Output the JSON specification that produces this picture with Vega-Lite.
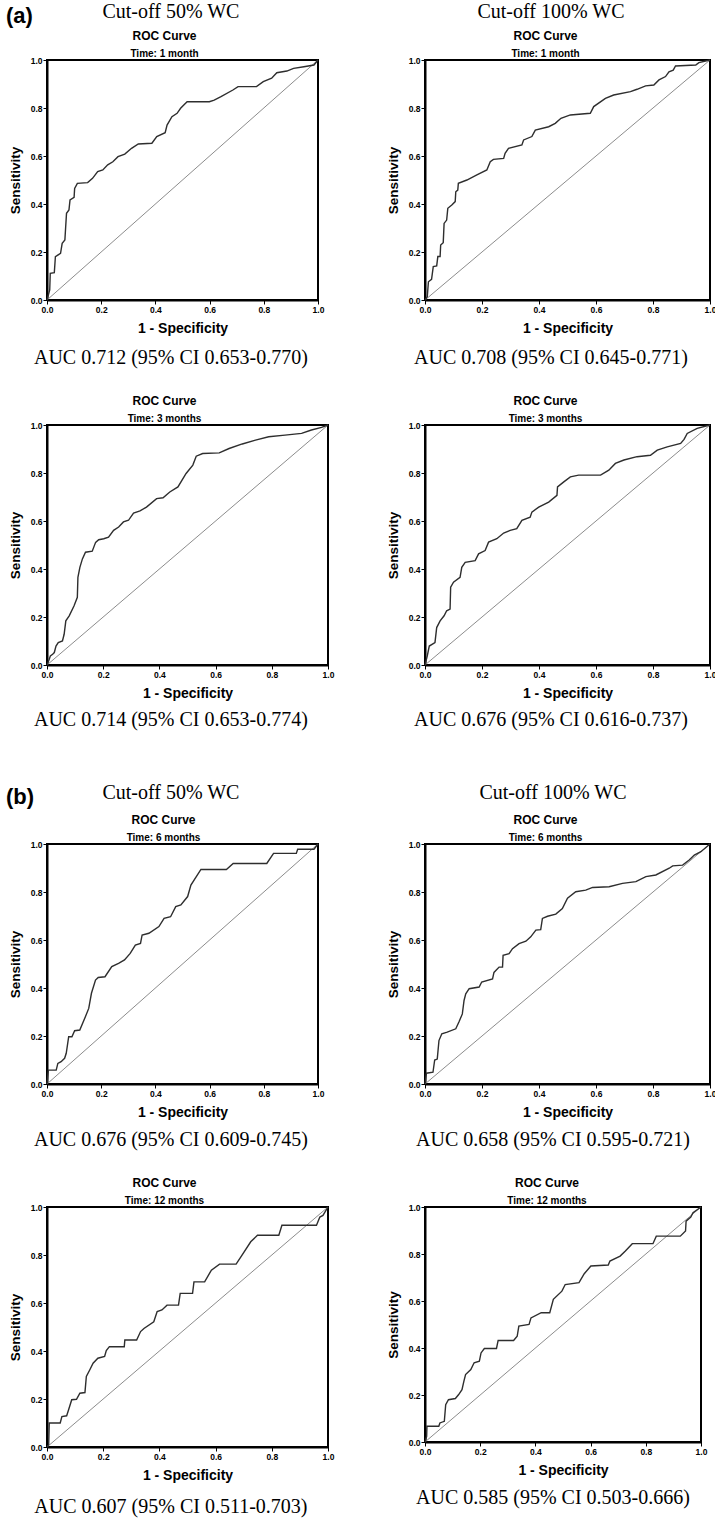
{
  "$schema": "https://vega.github.io/schema/vega-lite/v6.json",
  "padding": {"left": 5, "top": 0, "right": 0, "bottom": 0},
  "background": "white",
  "columns": 2,
  "spacing": {"row": 0, "column": 97},
  "bounds": "flush",
  "align": "each",
  "datasets": {
    "reference": [{"fpr": 0, "tpr": 0}, {"fpr": 1, "tpr": 1}],
    "cut50_1m": [{"fpr":0,"tpr":0},{"fpr":0.010,"tpr":0.042},{"fpr":0.012,"tpr":0.111},{"fpr":0.027,"tpr":0.114},{"fpr":0.031,"tpr":0.181},{"fpr":0.050,"tpr":0.194},{"fpr":0.056,"tpr":0.236},{"fpr":0.066,"tpr":0.25},{"fpr":0.069,"tpr":0.306},{"fpr":0.072,"tpr":0.361},{"fpr":0.081,"tpr":0.375},{"fpr":0.085,"tpr":0.417},{"fpr":0.100,"tpr":0.428},{"fpr":0.102,"tpr":0.465},{"fpr":0.112,"tpr":0.486},{"fpr":0.150,"tpr":0.489},{"fpr":0.168,"tpr":0.507},{"fpr":0.187,"tpr":0.535},{"fpr":0.206,"tpr":0.542},{"fpr":0.224,"tpr":0.563},{"fpr":0.243,"tpr":0.576},{"fpr":0.262,"tpr":0.597},{"fpr":0.287,"tpr":0.608},{"fpr":0.312,"tpr":0.632},{"fpr":0.337,"tpr":0.65},{"fpr":0.387,"tpr":0.653},{"fpr":0.405,"tpr":0.681},{"fpr":0.436,"tpr":0.697},{"fpr":0.443,"tpr":0.729},{"fpr":0.461,"tpr":0.764},{"fpr":0.48,"tpr":0.778},{"fpr":0.493,"tpr":0.799},{"fpr":0.517,"tpr":0.826},{"fpr":0.599,"tpr":0.826},{"fpr":0.617,"tpr":0.833},{"fpr":0.642,"tpr":0.847},{"fpr":0.686,"tpr":0.875},{"fpr":0.705,"tpr":0.889},{"fpr":0.773,"tpr":0.889},{"fpr":0.798,"tpr":0.91},{"fpr":0.829,"tpr":0.924},{"fpr":0.848,"tpr":0.947},{"fpr":0.885,"tpr":0.954},{"fpr":0.910,"tpr":0.965},{"fpr":0.948,"tpr":0.972},{"fpr":0.985,"tpr":0.979},{"fpr":1,"tpr":1}],
    "cut100_1m": [{"fpr":0,"tpr":0},{"fpr":0.008,"tpr":0.014},{"fpr":0.012,"tpr":0.076},{"fpr":0.023,"tpr":0.086},{"fpr":0.029,"tpr":0.139},{"fpr":0.041,"tpr":0.142},{"fpr":0.045,"tpr":0.181},{"fpr":0.053,"tpr":0.181},{"fpr":0.055,"tpr":0.229},{"fpr":0.064,"tpr":0.239},{"fpr":0.067,"tpr":0.319},{"fpr":0.076,"tpr":0.333},{"fpr":0.080,"tpr":0.382},{"fpr":0.094,"tpr":0.396},{"fpr":0.106,"tpr":0.41},{"fpr":0.108,"tpr":0.451},{"fpr":0.115,"tpr":0.458},{"fpr":0.117,"tpr":0.486},{"fpr":0.147,"tpr":0.5},{"fpr":0.182,"tpr":0.521},{"fpr":0.217,"tpr":0.542},{"fpr":0.229,"tpr":0.576},{"fpr":0.240,"tpr":0.586},{"fpr":0.276,"tpr":0.590},{"fpr":0.281,"tpr":0.611},{"fpr":0.293,"tpr":0.632},{"fpr":0.340,"tpr":0.646},{"fpr":0.346,"tpr":0.667},{"fpr":0.375,"tpr":0.681},{"fpr":0.387,"tpr":0.708},{"fpr":0.434,"tpr":0.722},{"fpr":0.457,"tpr":0.736},{"fpr":0.477,"tpr":0.757},{"fpr":0.510,"tpr":0.771},{"fpr":0.580,"tpr":0.778},{"fpr":0.592,"tpr":0.806},{"fpr":0.633,"tpr":0.840},{"fpr":0.662,"tpr":0.854},{"fpr":0.721,"tpr":0.868},{"fpr":0.744,"tpr":0.878},{"fpr":0.774,"tpr":0.892},{"fpr":0.803,"tpr":0.896},{"fpr":0.821,"tpr":0.917},{"fpr":0.844,"tpr":0.931},{"fpr":0.856,"tpr":0.951},{"fpr":0.871,"tpr":0.958},{"fpr":0.879,"tpr":0.975},{"fpr":0.950,"tpr":0.979},{"fpr":0.961,"tpr":0.989},{"fpr":1,"tpr":1}],
    "cut50_3m": [{"fpr":0,"tpr":0},{"fpr":0.008,"tpr":0.024},{"fpr":0.012,"tpr":0.038},{"fpr":0.020,"tpr":0.045},{"fpr":0.026,"tpr":0.052},{"fpr":0.032,"tpr":0.079},{"fpr":0.040,"tpr":0.093},{"fpr":0.055,"tpr":0.10},{"fpr":0.061,"tpr":0.128},{"fpr":0.067,"tpr":0.184},{"fpr":0.079,"tpr":0.205},{"fpr":0.096,"tpr":0.246},{"fpr":0.108,"tpr":0.282},{"fpr":0.110,"tpr":0.365},{"fpr":0.117,"tpr":0.407},{"fpr":0.126,"tpr":0.442},{"fpr":0.137,"tpr":0.470},{"fpr":0.161,"tpr":0.474},{"fpr":0.173,"tpr":0.511},{"fpr":0.184,"tpr":0.522},{"fpr":0.202,"tpr":0.526},{"fpr":0.219,"tpr":0.533},{"fpr":0.237,"tpr":0.561},{"fpr":0.255,"tpr":0.575},{"fpr":0.272,"tpr":0.596},{"fpr":0.290,"tpr":0.603},{"fpr":0.308,"tpr":0.633},{"fpr":0.331,"tpr":0.642},{"fpr":0.354,"tpr":0.658},{"fpr":0.390,"tpr":0.693},{"fpr":0.413,"tpr":0.697},{"fpr":0.437,"tpr":0.721},{"fpr":0.466,"tpr":0.742},{"fpr":0.495,"tpr":0.798},{"fpr":0.519,"tpr":0.833},{"fpr":0.531,"tpr":0.870},{"fpr":0.554,"tpr":0.881},{"fpr":0.613,"tpr":0.884},{"fpr":0.648,"tpr":0.902},{"fpr":0.695,"tpr":0.921},{"fpr":0.742,"tpr":0.937},{"fpr":0.789,"tpr":0.951},{"fpr":0.847,"tpr":0.958},{"fpr":0.906,"tpr":0.965},{"fpr":0.941,"tpr":0.979},{"fpr":0.977,"tpr":0.990},{"fpr":1,"tpr":1}],
    "cut100_3m": [{"fpr":0,"tpr":0},{"fpr":0.008,"tpr":0.038},{"fpr":0.015,"tpr":0.079},{"fpr":0.035,"tpr":0.093},{"fpr":0.041,"tpr":0.156},{"fpr":0.053,"tpr":0.184},{"fpr":0.067,"tpr":0.205},{"fpr":0.076,"tpr":0.226},{"fpr":0.088,"tpr":0.233},{"fpr":0.090,"tpr":0.324},{"fpr":0.100,"tpr":0.345},{"fpr":0.123,"tpr":0.365},{"fpr":0.129,"tpr":0.407},{"fpr":0.141,"tpr":0.428},{"fpr":0.176,"tpr":0.435},{"fpr":0.188,"tpr":0.463},{"fpr":0.211,"tpr":0.477},{"fpr":0.223,"tpr":0.512},{"fpr":0.252,"tpr":0.526},{"fpr":0.276,"tpr":0.550},{"fpr":0.299,"tpr":0.561},{"fpr":0.322,"tpr":0.568},{"fpr":0.340,"tpr":0.603},{"fpr":0.369,"tpr":0.616},{"fpr":0.375,"tpr":0.637},{"fpr":0.399,"tpr":0.658},{"fpr":0.434,"tpr":0.679},{"fpr":0.463,"tpr":0.707},{"fpr":0.465,"tpr":0.742},{"fpr":0.487,"tpr":0.763},{"fpr":0.510,"tpr":0.784},{"fpr":0.539,"tpr":0.791},{"fpr":0.616,"tpr":0.791},{"fpr":0.645,"tpr":0.812},{"fpr":0.668,"tpr":0.840},{"fpr":0.698,"tpr":0.854},{"fpr":0.744,"tpr":0.868},{"fpr":0.791,"tpr":0.874},{"fpr":0.815,"tpr":0.895},{"fpr":0.850,"tpr":0.909},{"fpr":0.897,"tpr":0.923},{"fpr":0.909,"tpr":0.940},{"fpr":0.920,"tpr":0.965},{"fpr":0.955,"tpr":0.986},{"fpr":1,"tpr":1}],
    "cut50_6m": [{"fpr":0,"tpr":0},{"fpr":0.005,"tpr":0.058},{"fpr":0.034,"tpr":0.058},{"fpr":0.040,"tpr":0.086},{"fpr":0.052,"tpr":0.093},{"fpr":0.065,"tpr":0.107},{"fpr":0.071,"tpr":0.128},{"fpr":0.080,"tpr":0.197},{"fpr":0.092,"tpr":0.197},{"fpr":0.102,"tpr":0.222},{"fpr":0.121,"tpr":0.225},{"fpr":0.142,"tpr":0.281},{"fpr":0.154,"tpr":0.315},{"fpr":0.164,"tpr":0.378},{"fpr":0.179,"tpr":0.433},{"fpr":0.189,"tpr":0.444},{"fpr":0.214,"tpr":0.447},{"fpr":0.239,"tpr":0.489},{"fpr":0.264,"tpr":0.503},{"fpr":0.286,"tpr":0.517},{"fpr":0.307,"tpr":0.544},{"fpr":0.326,"tpr":0.579},{"fpr":0.345,"tpr":0.586},{"fpr":0.351,"tpr":0.621},{"fpr":0.376,"tpr":0.628},{"fpr":0.413,"tpr":0.656},{"fpr":0.432,"tpr":0.690},{"fpr":0.456,"tpr":0.697},{"fpr":0.475,"tpr":0.739},{"fpr":0.494,"tpr":0.746},{"fpr":0.519,"tpr":0.781},{"fpr":0.531,"tpr":0.829},{"fpr":0.568,"tpr":0.894},{"fpr":0.662,"tpr":0.894},{"fpr":0.687,"tpr":0.919},{"fpr":0.811,"tpr":0.919},{"fpr":0.836,"tpr":0.961},{"fpr":0.920,"tpr":0.961},{"fpr":0.925,"tpr":0.978},{"fpr":0.985,"tpr":0.978},{"fpr":1,"tpr":1}],
    "cut100_6m": [{"fpr":0,"tpr":0},{"fpr":0.005,"tpr":0.045},{"fpr":0.028,"tpr":0.049},{"fpr":0.034,"tpr":0.100},{"fpr":0.043,"tpr":0.104},{"fpr":0.049,"tpr":0.181},{"fpr":0.059,"tpr":0.209},{"fpr":0.078,"tpr":0.216},{"fpr":0.108,"tpr":0.230},{"fpr":0.119,"tpr":0.258},{"fpr":0.131,"tpr":0.292},{"fpr":0.137,"tpr":0.348},{"fpr":0.143,"tpr":0.376},{"fpr":0.155,"tpr":0.397},{"fpr":0.190,"tpr":0.404},{"fpr":0.199,"tpr":0.425},{"fpr":0.237,"tpr":0.438},{"fpr":0.242,"tpr":0.465},{"fpr":0.260,"tpr":0.487},{"fpr":0.272,"tpr":0.487},{"fpr":0.274,"tpr":0.536},{"fpr":0.295,"tpr":0.543},{"fpr":0.307,"tpr":0.564},{"fpr":0.330,"tpr":0.585},{"fpr":0.354,"tpr":0.595},{"fpr":0.371,"tpr":0.613},{"fpr":0.389,"tpr":0.641},{"fpr":0.406,"tpr":0.643},{"fpr":0.412,"tpr":0.690},{"fpr":0.430,"tpr":0.699},{"fpr":0.459,"tpr":0.708},{"fpr":0.482,"tpr":0.731},{"fpr":0.500,"tpr":0.774},{"fpr":0.529,"tpr":0.801},{"fpr":0.564,"tpr":0.808},{"fpr":0.588,"tpr":0.819},{"fpr":0.646,"tpr":0.822},{"fpr":0.693,"tpr":0.836},{"fpr":0.740,"tpr":0.843},{"fpr":0.775,"tpr":0.864},{"fpr":0.810,"tpr":0.871},{"fpr":0.857,"tpr":0.899},{"fpr":0.869,"tpr":0.909},{"fpr":0.904,"tpr":0.912},{"fpr":0.927,"tpr":0.933},{"fpr":0.945,"tpr":0.954},{"fpr":0.968,"tpr":0.968},{"fpr":1,"tpr":1}],
    "cut50_12m": [{"fpr":0,"tpr":0},{"fpr":0.006,"tpr":0.010},{"fpr":0.008,"tpr":0.100},{"fpr":0.047,"tpr":0.100},{"fpr":0.053,"tpr":0.127},{"fpr":0.070,"tpr":0.130},{"fpr":0.076,"tpr":0.152},{"fpr":0.088,"tpr":0.197},{"fpr":0.105,"tpr":0.199},{"fpr":0.117,"tpr":0.224},{"fpr":0.135,"tpr":0.227},{"fpr":0.140,"tpr":0.294},{"fpr":0.152,"tpr":0.321},{"fpr":0.164,"tpr":0.349},{"fpr":0.181,"tpr":0.370},{"fpr":0.205,"tpr":0.377},{"fpr":0.211,"tpr":0.402},{"fpr":0.222,"tpr":0.418},{"fpr":0.275,"tpr":0.418},{"fpr":0.277,"tpr":0.446},{"fpr":0.319,"tpr":0.446},{"fpr":0.333,"tpr":0.481},{"fpr":0.345,"tpr":0.494},{"fpr":0.380,"tpr":0.522},{"fpr":0.392,"tpr":0.564},{"fpr":0.409,"tpr":0.571},{"fpr":0.427,"tpr":0.591},{"fpr":0.468,"tpr":0.591},{"fpr":0.474,"tpr":0.640},{"fpr":0.518,"tpr":0.640},{"fpr":0.523,"tpr":0.688},{"fpr":0.561,"tpr":0.688},{"fpr":0.585,"tpr":0.737},{"fpr":0.614,"tpr":0.762},{"fpr":0.673,"tpr":0.762},{"fpr":0.690,"tpr":0.792},{"fpr":0.725,"tpr":0.855},{"fpr":0.749,"tpr":0.882},{"fpr":0.825,"tpr":0.882},{"fpr":0.836,"tpr":0.924},{"fpr":0.959,"tpr":0.924},{"fpr":0.971,"tpr":0.958},{"fpr":0.982,"tpr":0.965},{"fpr":1,"tpr":1}],
    "cut100_12m": [{"fpr":0,"tpr":0},{"fpr":0.006,"tpr":0.024},{"fpr":0.007,"tpr":0.067},{"fpr":0.050,"tpr":0.067},{"fpr":0.054,"tpr":0.081},{"fpr":0.070,"tpr":0.088},{"fpr":0.075,"tpr":0.159},{"fpr":0.085,"tpr":0.180},{"fpr":0.110,"tpr":0.185},{"fpr":0.122,"tpr":0.202},{"fpr":0.134,"tpr":0.223},{"fpr":0.141,"tpr":0.259},{"fpr":0.147,"tpr":0.287},{"fpr":0.166,"tpr":0.308},{"fpr":0.178,"tpr":0.337},{"fpr":0.197,"tpr":0.344},{"fpr":0.203,"tpr":0.379},{"fpr":0.215,"tpr":0.398},{"fpr":0.259,"tpr":0.398},{"fpr":0.265,"tpr":0.432},{"fpr":0.321,"tpr":0.432},{"fpr":0.334,"tpr":0.450},{"fpr":0.340,"tpr":0.493},{"fpr":0.377,"tpr":0.500},{"fpr":0.384,"tpr":0.528},{"fpr":0.421,"tpr":0.550},{"fpr":0.452,"tpr":0.550},{"fpr":0.465,"tpr":0.607},{"fpr":0.496,"tpr":0.642},{"fpr":0.508,"tpr":0.670},{"fpr":0.558,"tpr":0.678},{"fpr":0.577,"tpr":0.716},{"fpr":0.601,"tpr":0.749},{"fpr":0.664,"tpr":0.753},{"fpr":0.670,"tpr":0.770},{"fpr":0.707,"tpr":0.791},{"fpr":0.726,"tpr":0.813},{"fpr":0.751,"tpr":0.844},{"fpr":0.826,"tpr":0.844},{"fpr":0.838,"tpr":0.876},{"fpr":0.925,"tpr":0.876},{"fpr":0.944,"tpr":0.898},{"fpr":0.946,"tpr":0.940},{"fpr":0.963,"tpr":0.957},{"fpr":0.971,"tpr":0.976},{"fpr":1,"tpr":1}]
  },
  "concat": [
    {"width": 281, "height": 60, "layer": [
      {"data": {"values": [{"label": "(a)"}]}, "mark": {"type": "text", "fontSize": 22, "fontWeight": "bold", "align": "left", "baseline": "middle"},
       "encoding": {"text": {"field": "label"}, "x": {"datum": -0.146, "type": "quantitative", "scale": {"domain": [0, 1]}, "axis": null}, "y": {"datum": 0.733, "type": "quantitative", "scale": {"domain": [0, 1]}, "axis": null}}},
      {"data": {"values": [{"label": "Cut-off 50% WC"}]}, "mark": {"type": "text", "font": "Liberation Serif", "fontSize": 20, "align": "center", "baseline": "middle"},
       "encoding": {"text": {"field": "label"}, "x": {"datum": 0.441, "type": "quantitative", "scale": {"domain": [0, 1]}, "axis": null}, "y": {"datum": 0.8, "type": "quantitative", "scale": {"domain": [0, 1]}, "axis": null}}}
    ]},
    {"width": 285, "height": 60, "data": {"values": [{"label": "Cut-off 100% WC"}]}, "mark": {"type": "text", "font": "Liberation Serif", "fontSize": 20, "align": "center", "baseline": "middle"},
     "encoding": {"text": {"field": "label"}, "x": {"datum": 0.442, "type": "quantitative", "scale": {"domain": [0, 1]}, "axis": null}, "y": {"datum": 0.8, "type": "quantitative", "scale": {"domain": [0, 1]}, "axis": null}}},

    {"width": 271, "height": 240, "view": {"stroke": "#000", "strokeWidth": 2}, "title": {"text": "ROC Curve", "subtitle": "Time: 1 month", "dx": -18},
     "encoding": {"x": {"field": "fpr", "type": "quantitative", "scale": {"domain": [0, 1], "nice": false}, "axis": {"title": "1 - Specificity", "values": [0, 0.2, 0.4, 0.6, 0.8, 1], "format": ".1f"}}, "y": {"field": "tpr", "type": "quantitative", "scale": {"domain": [0, 1], "nice": false}, "axis": {"title": "Sensitivity", "values": [0, 0.2, 0.4, 0.6, 0.8, 1], "format": ".1f"}}, "order": {"value": null}},
     "layer": [{"data": {"name": "reference"}, "mark": {"type": "line", "color": "#8c8c8c", "strokeWidth": 1}}, {"data": {"name": "cut50_1m"}, "mark": {"type": "line", "color": "#2e2e2e", "strokeWidth": 1.4}}]},
    {"width": 285, "height": 240, "view": {"stroke": "#000", "strokeWidth": 2}, "title": {"text": "ROC Curve", "subtitle": "Time: 1 month", "dx": -22},
     "encoding": {"x": {"field": "fpr", "type": "quantitative", "scale": {"domain": [0, 1], "nice": false}, "axis": {"title": "1 - Specificity", "values": [0, 0.2, 0.4, 0.6, 0.8, 1], "format": ".1f"}}, "y": {"field": "tpr", "type": "quantitative", "scale": {"domain": [0, 1], "nice": false}, "axis": {"title": "Sensitivity", "values": [0, 0.2, 0.4, 0.6, 0.8, 1], "format": ".1f"}}, "order": {"value": null}},
     "layer": [{"data": {"name": "reference"}, "mark": {"type": "line", "color": "#8c8c8c", "strokeWidth": 1}}, {"data": {"name": "cut100_1m"}, "mark": {"type": "line", "color": "#2e2e2e", "strokeWidth": 1.4}}]},

    {"width": 281, "height": 125, "data": {"values": [{"label": "AUC 0.712 (95% CI 0.653-0.770)"}]}, "mark": {"type": "text", "font": "Liberation Serif", "fontSize": 20, "align": "center", "baseline": "middle"},
     "encoding": {"text": {"field": "label"}, "x": {"datum": 0.441, "type": "quantitative", "scale": {"domain": [0, 1]}, "axis": null}, "y": {"datum": 0.535, "type": "quantitative", "scale": {"domain": [0, 1]}, "axis": null}}},
    {"width": 285, "height": 125, "data": {"values": [{"label": "AUC 0.708 (95% CI 0.645-0.771)"}]}, "mark": {"type": "text", "font": "Liberation Serif", "fontSize": 20, "align": "center", "baseline": "middle"},
     "encoding": {"text": {"field": "label"}, "x": {"datum": 0.442, "type": "quantitative", "scale": {"domain": [0, 1]}, "axis": null}, "y": {"datum": 0.535, "type": "quantitative", "scale": {"domain": [0, 1]}, "axis": null}}},

    {"width": 281, "height": 240, "view": {"stroke": "#000", "strokeWidth": 2}, "title": {"text": "ROC Curve", "subtitle": "Time: 3 months", "dx": -23},
     "encoding": {"x": {"field": "fpr", "type": "quantitative", "scale": {"domain": [0, 1], "nice": false}, "axis": {"title": "1 - Specificity", "values": [0, 0.2, 0.4, 0.6, 0.8, 1], "format": ".1f"}}, "y": {"field": "tpr", "type": "quantitative", "scale": {"domain": [0, 1], "nice": false}, "axis": {"title": "Sensitivity", "values": [0, 0.2, 0.4, 0.6, 0.8, 1], "format": ".1f"}}, "order": {"value": null}},
     "layer": [{"data": {"name": "reference"}, "mark": {"type": "line", "color": "#8c8c8c", "strokeWidth": 1}}, {"data": {"name": "cut50_3m"}, "mark": {"type": "line", "color": "#2e2e2e", "strokeWidth": 1.4}}]},
    {"width": 285, "height": 240, "view": {"stroke": "#000", "strokeWidth": 2}, "title": {"text": "ROC Curve", "subtitle": "Time: 3 months", "dx": -22},
     "encoding": {"x": {"field": "fpr", "type": "quantitative", "scale": {"domain": [0, 1], "nice": false}, "axis": {"title": "1 - Specificity", "values": [0, 0.2, 0.4, 0.6, 0.8, 1], "format": ".1f"}}, "y": {"field": "tpr", "type": "quantitative", "scale": {"domain": [0, 1], "nice": false}, "axis": {"title": "Sensitivity", "values": [0, 0.2, 0.4, 0.6, 0.8, 1], "format": ".1f"}}, "order": {"value": null}},
     "layer": [{"data": {"name": "reference"}, "mark": {"type": "line", "color": "#8c8c8c", "strokeWidth": 1}}, {"data": {"name": "cut100_3m"}, "mark": {"type": "line", "color": "#2e2e2e", "strokeWidth": 1.4}}]},

    {"width": 281, "height": 95, "data": {"values": [{"label": "AUC 0.714 (95% CI 0.653-0.774)"}]}, "mark": {"type": "text", "font": "Liberation Serif", "fontSize": 20, "align": "center", "baseline": "middle"},
     "encoding": {"text": {"field": "label"}, "x": {"datum": 0.441, "type": "quantitative", "scale": {"domain": [0, 1]}, "axis": null}, "y": {"datum": 0.421, "type": "quantitative", "scale": {"domain": [0, 1]}, "axis": null}}},
    {"width": 285, "height": 95, "data": {"values": [{"label": "AUC 0.676 (95% CI 0.616-0.737)"}]}, "mark": {"type": "text", "font": "Liberation Serif", "fontSize": 20, "align": "center", "baseline": "middle"},
     "encoding": {"text": {"field": "label"}, "x": {"datum": 0.442, "type": "quantitative", "scale": {"domain": [0, 1]}, "axis": null}, "y": {"datum": 0.421, "type": "quantitative", "scale": {"domain": [0, 1]}, "axis": null}}},

    {"width": 281, "height": 84, "layer": [
      {"data": {"values": [{"label": "(b)"}]}, "mark": {"type": "text", "fontSize": 22, "fontWeight": "bold", "align": "left", "baseline": "middle"},
       "encoding": {"text": {"field": "label"}, "x": {"datum": -0.146, "type": "quantitative", "scale": {"domain": [0, 1]}, "axis": null}, "y": {"datum": 0.56, "type": "quantitative", "scale": {"domain": [0, 1]}, "axis": null}}},
      {"data": {"values": [{"label": "Cut-off 50% WC"}]}, "mark": {"type": "text", "font": "Liberation Serif", "fontSize": 20, "align": "center", "baseline": "middle"},
       "encoding": {"text": {"field": "label"}, "x": {"datum": 0.441, "type": "quantitative", "scale": {"domain": [0, 1]}, "axis": null}, "y": {"datum": 0.607, "type": "quantitative", "scale": {"domain": [0, 1]}, "axis": null}}}
    ]},
    {"width": 285, "height": 84, "data": {"values": [{"label": "Cut-off 100% WC"}]}, "mark": {"type": "text", "font": "Liberation Serif", "fontSize": 20, "align": "center", "baseline": "middle"},
     "encoding": {"text": {"field": "label"}, "x": {"datum": 0.449, "type": "quantitative", "scale": {"domain": [0, 1]}, "axis": null}, "y": {"datum": 0.607, "type": "quantitative", "scale": {"domain": [0, 1]}, "axis": null}}},

    {"width": 271, "height": 240, "view": {"stroke": "#000", "strokeWidth": 2}, "title": {"text": "ROC Curve", "subtitle": "Time: 6 months", "dx": -19},
     "encoding": {"x": {"field": "fpr", "type": "quantitative", "scale": {"domain": [0, 1], "nice": false}, "axis": {"title": "1 - Specificity", "values": [0, 0.2, 0.4, 0.6, 0.8, 1], "format": ".1f"}}, "y": {"field": "tpr", "type": "quantitative", "scale": {"domain": [0, 1], "nice": false}, "axis": {"title": "Sensitivity", "values": [0, 0.2, 0.4, 0.6, 0.8, 1], "format": ".1f"}}, "order": {"value": null}},
     "layer": [{"data": {"name": "reference"}, "mark": {"type": "line", "color": "#8c8c8c", "strokeWidth": 1}}, {"data": {"name": "cut50_6m"}, "mark": {"type": "line", "color": "#2e2e2e", "strokeWidth": 1.4}}]},
    {"width": 285, "height": 240, "view": {"stroke": "#000", "strokeWidth": 2}, "title": {"text": "ROC Curve", "subtitle": "Time: 6 months", "dx": -22},
     "encoding": {"x": {"field": "fpr", "type": "quantitative", "scale": {"domain": [0, 1], "nice": false}, "axis": {"title": "1 - Specificity", "values": [0, 0.2, 0.4, 0.6, 0.8, 1], "format": ".1f"}}, "y": {"field": "tpr", "type": "quantitative", "scale": {"domain": [0, 1], "nice": false}, "axis": {"title": "Sensitivity", "values": [0, 0.2, 0.4, 0.6, 0.8, 1], "format": ".1f"}}, "order": {"value": null}},
     "layer": [{"data": {"name": "reference"}, "mark": {"type": "line", "color": "#8c8c8c", "strokeWidth": 1}}, {"data": {"name": "cut100_6m"}, "mark": {"type": "line", "color": "#2e2e2e", "strokeWidth": 1.4}}]},

    {"width": 281, "height": 123, "data": {"values": [{"label": "AUC 0.676 (95% CI 0.609-0.745)"}]}, "mark": {"type": "text", "font": "Liberation Serif", "fontSize": 20, "align": "center", "baseline": "middle"},
     "encoding": {"text": {"field": "label"}, "x": {"datum": 0.441, "type": "quantitative", "scale": {"domain": [0, 1]}, "axis": null}, "y": {"datum": 0.545, "type": "quantitative", "scale": {"domain": [0, 1]}, "axis": null}}},
    {"width": 285, "height": 123, "data": {"values": [{"label": "AUC 0.658 (95% CI 0.595-0.721)"}]}, "mark": {"type": "text", "font": "Liberation Serif", "fontSize": 20, "align": "center", "baseline": "middle"},
     "encoding": {"text": {"field": "label"}, "x": {"datum": 0.449, "type": "quantitative", "scale": {"domain": [0, 1]}, "axis": null}, "y": {"datum": 0.545, "type": "quantitative", "scale": {"domain": [0, 1]}, "axis": null}}},

    {"width": 281, "height": 240, "view": {"stroke": "#000", "strokeWidth": 2}, "title": {"text": "ROC Curve", "subtitle": "Time: 12 months", "dx": -23},
     "encoding": {"x": {"field": "fpr", "type": "quantitative", "scale": {"domain": [0, 1], "nice": false}, "axis": {"title": "1 - Specificity", "values": [0, 0.2, 0.4, 0.6, 0.8, 1], "format": ".1f"}}, "y": {"field": "tpr", "type": "quantitative", "scale": {"domain": [0, 1], "nice": false}, "axis": {"title": "Sensitivity", "values": [0, 0.2, 0.4, 0.6, 0.8, 1], "format": ".1f"}}, "order": {"value": null}},
     "layer": [{"data": {"name": "reference"}, "mark": {"type": "line", "color": "#8c8c8c", "strokeWidth": 1}}, {"data": {"name": "cut50_12m"}, "mark": {"type": "line", "color": "#2e2e2e", "strokeWidth": 1.4}}]},
    {"width": 276, "height": 235, "view": {"stroke": "#000", "strokeWidth": 2}, "title": {"text": "ROC Curve", "subtitle": "Time: 12 months", "dx": -16},
     "encoding": {"x": {"field": "fpr", "type": "quantitative", "scale": {"domain": [0, 1], "nice": false}, "axis": {"title": "1 - Specificity", "values": [0, 0.2, 0.4, 0.6, 0.8, 1], "format": ".1f"}}, "y": {"field": "tpr", "type": "quantitative", "scale": {"domain": [0, 1], "nice": false}, "axis": {"title": "Sensitivity", "values": [0, 0.2, 0.4, 0.6, 0.8, 1], "format": ".1f"}}, "order": {"value": null}},
     "layer": [{"data": {"name": "reference"}, "mark": {"type": "line", "color": "#8c8c8c", "strokeWidth": 1}}, {"data": {"name": "cut100_12m"}, "mark": {"type": "line", "color": "#2e2e2e", "strokeWidth": 1.4}}]},

    {"width": 281, "height": 71, "data": {"values": [{"label": "AUC 0.607 (95% CI 0.511-0.703)"}]}, "mark": {"type": "text", "font": "Liberation Serif", "fontSize": 20, "align": "center", "baseline": "middle"},
     "encoding": {"text": {"field": "label"}, "x": {"datum": 0.441, "type": "quantitative", "scale": {"domain": [0, 1]}, "axis": null}, "y": {"datum": 0.155, "type": "quantitative", "scale": {"domain": [0, 1]}, "axis": null}}},
    {"width": 285, "height": 71, "data": {"values": [{"label": "AUC 0.585 (95% CI 0.503-0.666)"}]}, "mark": {"type": "text", "font": "Liberation Serif", "fontSize": 20, "align": "center", "baseline": "middle"},
     "encoding": {"text": {"field": "label"}, "x": {"datum": 0.449, "type": "quantitative", "scale": {"domain": [0, 1]}, "axis": null}, "y": {"datum": 0.282, "type": "quantitative", "scale": {"domain": [0, 1]}, "axis": null}}}
  ],
  "config": {
    "font": "Liberation Sans",
    "view": {"stroke": null},
    "axis": {"grid": false, "domainColor": "#000", "domainWidth": 2, "tickColor": "#000", "tickSize": 4, "tickWidth": 1, "labelFont": "Liberation Sans", "labelFontWeight": "bold", "labelFontSize": 8.5, "labelColor": "#000", "labelPadding": 1, "labelFlush": false, "labelOverlap": false, "labelBound": false, "titleFont": "Liberation Sans", "titleFontWeight": "bold", "titleFontSize": 14, "titleColor": "#000", "titlePadding": 8},
    "axisY": {"titleFontSize": 13.5},
    "title": {"font": "Liberation Sans", "fontSize": 12, "fontWeight": "bold", "color": "#000", "subtitleFont": "Liberation Sans", "subtitleFontSize": 10, "subtitleFontWeight": "bold", "subtitleColor": "#000", "anchor": "middle", "frame": "group", "offset": -4, "subtitlePadding": 6},
    "text": {"color": "#000"}
  }
}
